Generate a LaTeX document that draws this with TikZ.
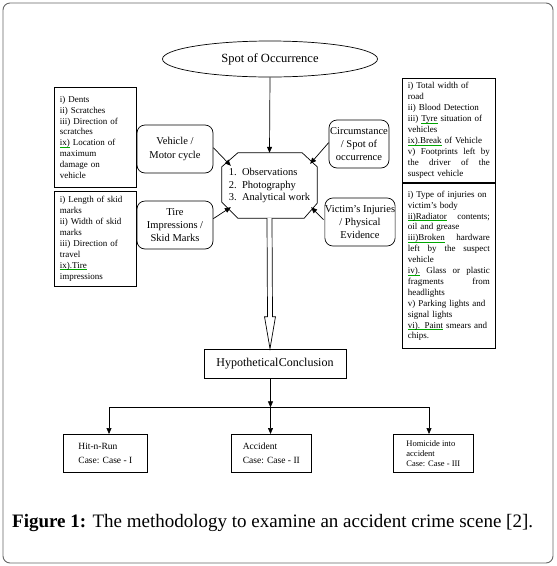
\documentclass[tikz,border=0pt]{standalone}
\usepackage{fontspec}
\setmainfont{Liberation Serif}
\usetikzlibrary{arrows.meta,calc,shapes.geometric}
\newcommand\jline[1]{{\spaceskip=0pt\xspaceskip=0pt\makebox[82pt][s]{#1}}}
\newsavebox\gulbox
\newcommand\gul[1]{\leavevmode\sbox\gulbox{#1}\rlap{\color{green!65!black}\rule[-1.6pt]{\wd\gulbox}{0.5pt}}\usebox\gulbox}
\begin{document}
\begin{tikzpicture}[x=1pt,y=-1pt,
  every node/.style={text=black},
  listbox/.style={draw, line width=0.7pt, inner xsep=5.5pt, inner ysep=0pt, align=left,
     font=\fontsize{9}{10.9}\selectfont, anchor=north west},
  roundbox/.style={draw, line width=0.7pt, rounded corners=8pt, align=center, inner sep=0pt,
     font=\fontsize{10.5}{12.6}\selectfont},
  casebox/.style={draw, line width=0.7pt, align=left, inner ysep=0pt, anchor=north west},
  arr/.style={line width=0.7pt, -{Triangle[length=6pt,width=5pt]}},
  ln/.style={line width=0.7pt}
]
\useasboundingbox (0,0) rectangle (557,566);
\draw[black!60, line width=0.9pt, rounded corners=7pt] (3,3) rectangle (553,563);

% ellipse
\node[ellipse, draw, line width=0.7pt, minimum width=215pt, minimum height=36pt, inner sep=0pt,
  font=\fontsize{12.5}{14}\selectfont] (spot) at (270,59) {Spot of Occurrence};

% octagon
\node[minimum width=95pt, minimum height=65pt, inner sep=0pt, align=left,
  font=\fontsize{10.5}{12.5}\selectfont] (obs) at (269.5,185.5)
  {1.\ \ Observations\\2.\ \ Photography\\3.\ \ Analytical work};
\draw[ln] ($(obs.north west)+(16,0)$) -- ($(obs.north east)+(-15,0)$) -- ($(obs.north east)+(0,14)$)
  -- ($(obs.south east)+(0,-15)$) -- ($(obs.south east)+(-13,0)$) -- ($(obs.south west)+(16,0)$)
  -- ($(obs.south west)+(0,-16)$) -- ($(obs.north west)+(0,14)$) -- cycle;

% rounded boxes
\node[roundbox, minimum width=76pt, minimum height=48pt] (veh) at (175,149) {Vehicle /\\[2pt]Motor cycle};
\node[roundbox, minimum width=76pt, minimum height=48pt] (tire) at (175,225) {Tire\\Impressions /\\Skid Marks};
\node[roundbox, minimum width=60pt, minimum height=48pt] (circ) at (359,144) {Circumstance\\/ Spot of\\occurrence};
\node[roundbox, minimum width=62pt, minimum height=48pt] (vict) at (360,222) {Victim's Injuries\\/ Physical\\Evidence};

% list boxes
\node[listbox, text width=71pt, minimum height=100pt] (l1) at (54,87)
 {i) Dents\\ii) Scratches\\iii) Direction of\\scratches\\\gul{ix)} Location of\\maximum\\damage on\\vehicle};
\node[listbox, text width=71pt, minimum height=95pt] (l2) at (54,191)
 {i) Length of skid\\marks\\ii) Width of skid\\marks\\iii) Direction of\\travel\\\gul{ix).Tire}\\impressions};
\node[listbox, text width=82pt, minimum height=104pt] (r1) at (402,78)
 {i) Total width of\\road\\ii) Blood Detection\\iii) \gul{Tyre} situation of\\vehicles\\\gul{ix).Break} of Vehicle\\
  \jline{v) Footprints left by}\\\jline{the driver of the}\\suspect vehicle};
\node[listbox, text width=82pt, minimum height=165pt] (r2) at (402,183)
 {i) Type of injuries on\\victim's body\\\jline{\gul{ii)Radiator} contents;}\\oil and grease\\
  \jline{\gul{iii)Broken} hardware}\\\jline{left by the suspect}\\vehicle\\\jline{\gul{iv).} Glass or plastic}\\
  \jline{fragments from}\\headlights\\v) Parking lights and\\signal lights\\\gul{vi). Paint} smears and\\chips.};

% hypothesis
\node[draw, line width=0.7pt, minimum width=142pt, minimum height=29pt, inner sep=0pt,
  font=\fontsize{12}{14}\selectfont] (hyp) at (275,363.5) {Hypothetical\hspace{0.5pt}Conclusion};

% case boxes
\node[casebox, minimum width=84pt, minimum height=38pt, inner xsep=10pt, font=\fontsize{9.5}{14}\selectfont] (c1) at (63,434)
 {Hit-n-Run\\Case: Case - I};
\node[casebox, minimum width=80pt, minimum height=38pt, inner xsep=6pt, font=\fontsize{9.5}{14}\selectfont] (c2) at (231,434)
 {Accident\\Case: Case - II};
\node[casebox, minimum width=80pt, minimum height=38pt, inner xsep=8pt, font=\fontsize{8.5}{10}\selectfont] (c3) at (393,434)
 {Homicide into\\accident\\Case: Case - III};

% connectors to octagon
\draw[arr] (spot.south) -- (obs.north);
\draw[arr] ($(veh.north east)+(0,23)$) -- ($(obs.north west)+(9,13)$);
\draw[arr] ($(tire.north east)+(0,18)$) -- ($(obs.south west)+(9,-11)$);
\draw[arr] ($(circ.north west)+(0,23)$) -- ($(obs.north east)+(-7,11)$);
\draw[arr] ($(vict.north west)+(-1,22)$) -- ($(obs.south east)+(-6,-11)$);

% big hollow arrow
\draw[ln, fill=white] ($(obs.south)+(-2.5,0)$) -- ($(hyp.north)+(-7.5,-32)$) -- ($(hyp.north)+(-10.5,-32)$)
  -- ($(hyp.north)+(-5,0)$) -- ($(hyp.north)+(0.5,-32)$) -- ($(hyp.north)+(-2.5,-32)$) -- ($(obs.south)+(2.5,0)$);

% tree to cases
\coordinate (jn) at ($(hyp.south)+(-4.5,29)$);
\coordinate (jl) at (109,407);
\coordinate (jr) at (429,407);
\draw[arr] ($(hyp.south)+(-4.5,0)$) -- (jn);
\draw[ln] (jl) -- (jr);
\draw[arr] (jn) -- (jn |- c2.north);
\draw[arr] (jl) -- (jl |- c1.north);
\draw[arr] (jr) -- (jr |- c3.north);

% caption
\node[anchor=base west, inner sep=0pt, font=\fontsize{19}{22}\selectfont] (cap) at (12,527)
 {\textbf{Figure 1:} The methodology to examine an accident crime scene [2].};
\end{tikzpicture}
\end{document}
